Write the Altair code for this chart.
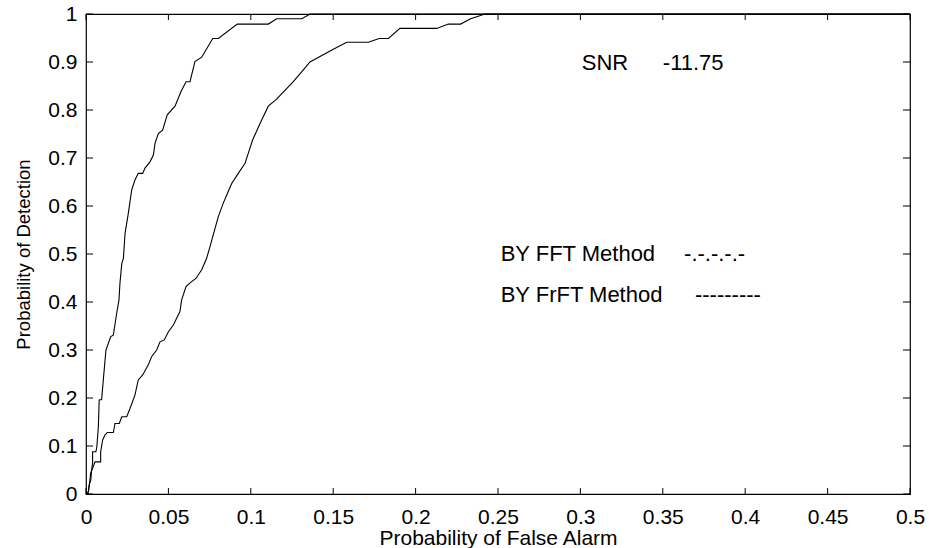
import altair as alt
import pandas as pd

# --- data ---
curve_a_x = [0, 0.0012, 0.002, 0.0029, 0.0034, 0.004, 0.004, 0.006, 0.0066, 0.0075, 0.008, 0.0095,
             0.0105, 0.0121, 0.015, 0.0166, 0.0186, 0.020, 0.0206, 0.0217, 0.0227, 0.0237, 0.0257,
             0.0277, 0.0297, 0.0317, 0.0344, 0.0358, 0.0388, 0.0409, 0.0419, 0.0439, 0.0465, 0.0493,
             0.054, 0.0576, 0.0607, 0.0631, 0.0661, 0.0702, 0.0769, 0.0803, 0.0918, 0.1106, 0.1157,
             0.1309, 0.136, 0.5]
curve_a_y = [0, 0.0, 0.02, 0.029, 0.05, 0.064, 0.088, 0.088, 0.099, 0.14, 0.196, 0.197,
             0.2375, 0.3, 0.328, 0.331, 0.376, 0.404, 0.439, 0.48, 0.491, 0.543, 0.585,
             0.633, 0.654, 0.668, 0.668, 0.679, 0.692, 0.706, 0.731, 0.751, 0.758, 0.79,
             0.808, 0.838, 0.859, 0.859, 0.901, 0.91, 0.949, 0.949, 0.979, 0.979, 0.99,
             0.99, 1.0, 1.0]

curve_b_x = [0, 0.0015, 0.0024, 0.0028, 0.0055, 0.0089, 0.0089, 0.0101, 0.0115, 0.0129, 0.0166,
             0.0176, 0.0202, 0.0217, 0.0247, 0.0267, 0.0297, 0.0317, 0.0344, 0.0378, 0.0398, 0.0429,
             0.0449, 0.0475, 0.05, 0.053, 0.055, 0.057, 0.058, 0.0607, 0.0631, 0.0667, 0.0702,
             0.0732, 0.0752, 0.0777, 0.0803, 0.0833, 0.0854, 0.0884, 0.0924, 0.0965, 0.0985, 0.1011,
             0.1056, 0.1106, 0.1155, 0.1258, 0.1315, 0.1359, 0.147, 0.1521, 0.1582, 0.1713, 0.1779,
             0.1835, 0.1905, 0.2128, 0.2199, 0.2273, 0.2334, 0.2421, 0.5]
curve_b_y = [0, 0.005, 0.029, 0.043, 0.067, 0.067, 0.088, 0.1125, 0.123, 0.128, 0.128,
             0.147, 0.147, 0.161, 0.161, 0.178, 0.206, 0.2375, 0.248, 0.269, 0.286, 0.3,
             0.317, 0.321, 0.338, 0.352, 0.366, 0.38, 0.404, 0.432, 0.44, 0.449, 0.467,
             0.491, 0.515, 0.546, 0.578, 0.606, 0.623, 0.647, 0.668, 0.689, 0.71, 0.7375,
             0.772, 0.808, 0.822, 0.859, 0.882, 0.9, 0.921, 0.93, 0.941, 0.941, 0.949,
             0.949, 0.97, 0.97, 0.979, 0.979, 0.99, 1.0, 1.0]

x_ticks = [0, 0.05, 0.1, 0.15, 0.2, 0.25, 0.3, 0.35, 0.4, 0.45, 0.5]
y_ticks = [0, 0.1, 0.2, 0.3, 0.4, 0.5, 0.6, 0.7, 0.8, 0.9, 1]

note_text = ["SNR", "-11.75", "BY FFT Method", "-.-.-.-.-", "BY FrFT Method", "---------"]
note_x = [0.3008, 0.350, 0.2516, 0.3629, 0.2516, 0.3695]
note_y = [0.897, 0.897, 0.5, 0.5, 0.414, 0.414]

FONT = "Liberation Sans"

rows = []
for i, (a, b) in enumerate(zip(curve_a_x, curve_a_y)):
    rows.append({"series": "A", "i": i, "pfa": a, "pd": b})
for i, (a, b) in enumerate(zip(curve_b_x, curve_b_y)):
    rows.append({"series": "B", "i": i, "pfa": a, "pd": b})
df = pd.DataFrame(rows)

xscale = alt.Scale(domain=[0, 0.5], nice=False, zero=False)
yscale = alt.Scale(domain=[0, 1], nice=False, zero=False)

xaxis = alt.Axis(values=x_ticks, format="~g", grid=False, ticks=False, domain=False,
                 labelFont=FONT, labelFontSize=21, labelColor="black", labelPadding=12,
                 title="Probability of False Alarm", titleFont=FONT, titleFontSize=21,
                 titleFontWeight="normal", titleColor="black", titleY=44, titleBaseline="middle",
                 labelFlush=False)
yaxis = alt.Axis(values=y_ticks, format="~g", grid=False, ticks=False, domain=False,
                 labelFont=FONT, labelFontSize=21, labelColor="black", labelPadding=9,
                 title="Probability of Detection", titleFont=FONT, titleFontSize=18.5,
                 titleFontWeight="normal", titleColor="black", titleX=-63, titleY=240,
                 titleBaseline="middle", titleAlign="center", titleAngle=-90, labelFlush=False)

lines = alt.Chart(df).mark_line(color="black", strokeWidth=1.1).encode(
    x=alt.X("pfa:Q", scale=xscale, axis=xaxis),
    y=alt.Y("pd:Q", scale=yscale, axis=yaxis),
    detail="series:N",
    order="i:Q",
)

xt = pd.DataFrame({"v": x_ticks})
yt = pd.DataFrame({"v": y_ticks})

tick_bottom = alt.Chart(xt).mark_rule(color="black", strokeWidth=1).encode(
    x=alt.X("v:Q", scale=xscale), y=alt.value(480), y2=alt.value(474))
tick_top = alt.Chart(xt).mark_rule(color="black", strokeWidth=1).encode(
    x=alt.X("v:Q", scale=xscale), y=alt.value(0), y2=alt.value(6))
tick_left = alt.Chart(yt).mark_rule(color="black", strokeWidth=1).encode(
    y=alt.Y("v:Q", scale=yscale), x=alt.value(0), x2=alt.value(7))
tick_right = alt.Chart(yt).mark_rule(color="black", strokeWidth=1).encode(
    y=alt.Y("v:Q", scale=yscale), x=alt.value(824), x2=alt.value(817))

notes = pd.DataFrame({"x": note_x, "y": note_y, "t": note_text})
texts = alt.Chart(notes).mark_text(font=FONT, fontSize=22, color="black",
                                   align="left", baseline="middle").encode(
    x=alt.X("x:Q", scale=xscale), y=alt.Y("y:Q", scale=yscale), text="t:N")

chart = alt.layer(lines, tick_bottom, tick_top, tick_left, tick_right, texts).properties(
    width=824, height=480,
    autosize=alt.AutoSizeParams(type="none"),
    padding={"left": 86, "top": 14, "right": 19, "bottom": 54},
    background="white",
).configure_view(stroke="black", strokeWidth=1.2)

chart.save("out.html", embed_options={"renderer": "svg", "actions": False})
